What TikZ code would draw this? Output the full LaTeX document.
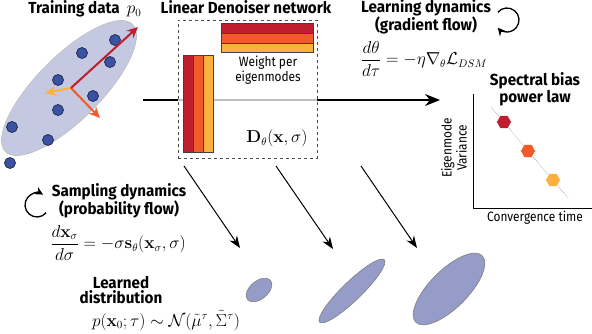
\documentclass[tikz,border=0pt]{standalone}
\usepackage{amsmath}
\usepackage[no-math]{fontspec}
\newfontfamily\labfont{Fira Sans}[FakeStretch=0.88]
\newfontfamily\headfont{Fira Sans}[FakeStretch=0.95]
\usetikzlibrary{shapes.geometric,arrows.meta}
\definecolor{modeA}{HTML}{BE1E2D}
\definecolor{modeB}{HTML}{F15A29}
\definecolor{modeC}{HTML}{FBB040}
\definecolor{ptblue}{HTML}{3B52A3}
\definecolor{cloud}{HTML}{C5C8E1}
\definecolor{learned}{HTML}{959CC8}
\begin{document}
\begin{tikzpicture}[x=1pt,y=-1pt,every node/.style={inner sep=0pt},
    head/.style={font=\headfont\bfseries\fontsize{16}{14.5}\selectfont,align=center},
    lab/.style={font=\labfont\fontsize{13.5}{15}\selectfont,align=center},
    eq/.style={font=\fontsize{16}{18}\selectfont},
    pt/.style={circle,draw=ptblue!45!black,fill=ptblue,line width=0.7pt,minimum size=11pt},
    vec/.style={line width=2pt,-{Stealth[length=11pt,width=10pt]}},
    bar/.style={draw=black!75,line width=0.5pt},
    hexa/.style={regular polygon,regular polygon sides=6,minimum size=15pt,draw=white,line width=0.5pt},
    dist/.style={ellipse,fill=learned,draw=gray,line width=0.6pt},
    flow/.style={line width=1pt,-{Stealth[length=12pt,width=9pt]}},
    cyc/.style={line width=1.3pt,-{Stealth[length=8pt,width=8pt]}}]
    \useasboundingbox (0,0) rectangle (592,334);
    % training data
    \node[ellipse,fill=cloud,draw=gray!50,line width=0.6pt,minimum width=180pt,minimum height=64pt,rotate=45] (cloud) at (69,88) {};
    \node[pt] (x1) at (115,40) {};
    \node[pt] (x2) at (82,53) {};
    \node[pt] (x3) at (110,62) {};
    \node[pt] (x4) at (58,80) {};
    \node[pt] (x5) at (93,96) {};
    \node[pt] (x6) at (58,110) {};
    \node[pt] (x7) at (12,127) {};
    \node[pt] (x8) at (48,140) {};
    \node[pt] (x9) at (10,163) {};
    \coordinate (o) at (71,88);
    \coordinate (e1) at (138,27);
    \coordinate (e2) at (100,118);
    \coordinate (e3) at (45,93);
    \draw[vec,modeC] (o) -- (e3);
    \draw[vec,modeB] (o) -- (e2);
    \draw[vec,modeA] (o) -- (e1);
    \node[head,anchor=base] (thead) at (74,14) {Training data};
    \node[eq,anchor=base] (p0) at (134,14) {$p_0$};
    % denoiser
    \coordinate (ain) at (143,100);
    \coordinate (aout) at (440,100);
    \draw[line width=1.6pt,-{Stealth[length=15pt,width=12pt]}] (ain) -- (aout);
    \node[draw=black!70,dashed,line width=0.8pt,fill=white,fill opacity=0.75,minimum width=139pt,minimum height=138pt] (box) at (247.5,89) {};
    \draw[bar,fill=modeA] (183,55) rectangle (193,152);
    \draw[bar,fill=modeB] (193,55) rectangle (203,152);
    \draw[bar,fill=modeC] (203,55) rectangle (213,152);
    \draw[bar,fill=modeA] (221,23) rectangle (313,33);
    \draw[bar,fill=modeB] (221,33) rectangle (313,43);
    \draw[bar,fill=modeC] (221,43) rectangle (313,52);
    \node[lab] (wlab) at (268,70) {Weight per\\eigenmodes};
    \node[eq,anchor=base] (dlab) at (277,143) {$\mathbf{D}_\theta(\mathbf{x},\sigma)$};
    \node[head,anchor=base] (lhead) at (246,14) {Linear Denoiser network};
    % learning dynamics
    \node[head] (ghead) at (426,17) {Learning dynamics\\(gradient flow)};
    \coordinate (lcyc) at (507,20);
    \draw[cyc] ([shift={(140:12pt)}]lcyc) arc[start angle=140,end angle=-140,radius=12pt];
    \node[eq] (geq) at (424,59) {$\displaystyle\frac{d\theta}{d\tau}=-\eta\nabla_\theta\mathcal{L}_{DSM}$};
    % spectral bias plot
    \node[head] (shead) at (535,89) {Spectral bias\\power law};
    \coordinate (ytop) at (473,94);
    \coordinate (orig) at (473,208);
    \coordinate (xend) at (592,208);
    \draw[line width=0.8pt] (ytop) -- (orig) -- (xend);
    \coordinate (fa) at (491,107);
    \coordinate (fb) at (568,198);
    \draw[black!70,line width=0.4pt,densely dotted] (fa) -- (fb);
    \node[hexa,fill=modeA] (h1) at (504,122) {};
    \node[hexa,fill=modeB] (h2) at (528,151) {};
    \node[hexa,fill=modeC] (h3) at (553,180) {};
    \node[lab,rotate=90] (ylab) at (454,148) {Eigenmode\\Variance};
    \node[lab,anchor=base] (xlab) at (535,222) {Convergence time};
    % sampling
    \coordinate (scyc) at (37,205);
    \draw[cyc] ([shift={(-40:12pt)}]scyc) arc[start angle=-40,end angle=-300,radius=12pt];
    \node[head] (shead2) at (119,201) {Sampling dynamics\\(probability flow)};
    \node[eq] (seq) at (118,243) {$\displaystyle\frac{d\mathbf{x}_\sigma}{d\sigma}=-\sigma\mathbf{s}_\theta(\mathbf{x}_\sigma,\sigma)$};
    \node[head] (dhead) at (121,290) {Learned\\distribution};
    \node[eq,anchor=base] (peq) at (166,326) {$p(\mathbf{x}_0;\tau)\sim\mathcal{N}(\tilde{\mu}^\tau,\tilde{\Sigma}^\tau)$};
    % learned distributions
    \node[dist,minimum width=30pt,minimum height=18pt,rotate=40] (d1) at (259,290) {};
    \node[dist,minimum width=90pt,minimum height=19pt,rotate=44] (d2) at (352,291) {};
    \node[dist,minimum width=94pt,minimum height=38pt,rotate=45] (d3) at (449,289) {};
    \coordinate (s1) at (184,166);
    \coordinate (t1) at (240,248);
    \coordinate (s2) at (276,166);
    \coordinate (t2) at (333,249);
    \coordinate (s3) at (361,166);
    \coordinate (t3) at (417,248);
    \draw[flow] (s1) -- (t1);
    \draw[flow] (s2) -- (t2);
    \draw[flow] (s3) -- (t3);
\end{tikzpicture}
\end{document}
